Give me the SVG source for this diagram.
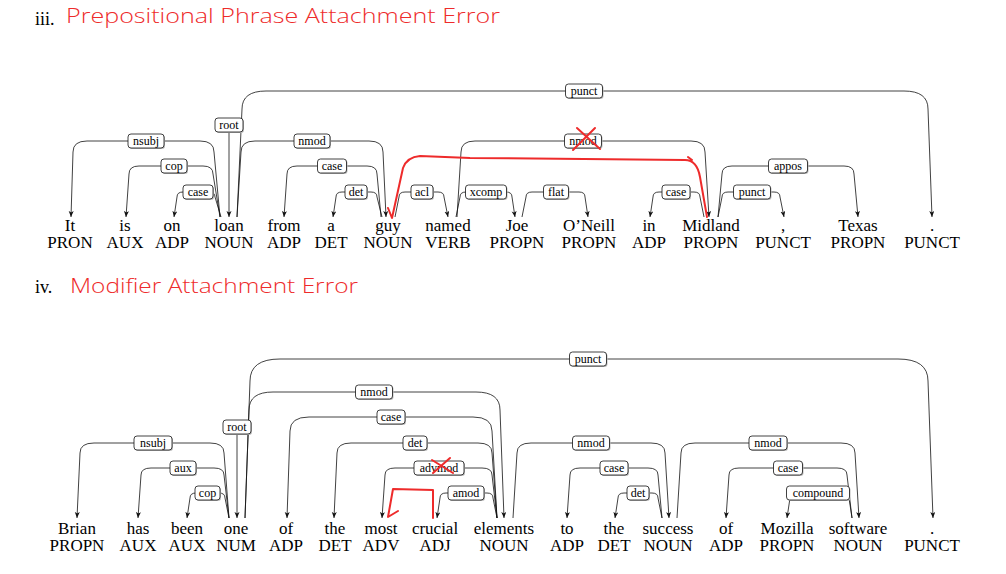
<svg xmlns="http://www.w3.org/2000/svg" width="1006" height="574" viewBox="0 0 1006 574">
<style>
.w{font-family:"Liberation Serif","Times New Roman",serif;font-size:17px;fill:#000;text-anchor:middle}
.num{font-family:"Liberation Serif","Times New Roman",serif;font-size:18px;fill:#000}
.hand{font-family:"Open Sans","Noto Sans","Liberation Sans",sans-serif;font-weight:300;font-size:21px;fill:#ee2b2b}
.e{fill:none;stroke:#111;stroke-width:0.8;marker-end:url(#ah)}
.lb rect{fill:#fff;stroke:#111;stroke-width:0.8}
.lb rect.sh{fill:#bbb;stroke:none}
.lb text{font-family:"Liberation Serif","Times New Roman",serif;font-size:12px;fill:#000;text-anchor:middle}
.red{fill:none;stroke:#ee2b2b;stroke-width:2;stroke-linecap:round;stroke-linejoin:round}
</style>
<defs>
<marker id="ah" markerUnits="userSpaceOnUse" markerWidth="8" markerHeight="6" refX="6" refY="2.5" orient="auto">
<path d="M0,0 L6,2.5 L0,5 L1.6,2.5 z" fill="#111"/>
</marker>
</defs>
<rect width="1006" height="574" fill="#fff"/>

<g id="titles">
<text class="num" x="35" y="25">iii.</text>
<text class="hand" x="66" y="23" textLength="434" lengthAdjust="spacingAndGlyphs">Prepositional Phrase Attachment Error</text>
<text class="num" x="35" y="293">iv.</text>
<text class="hand" x="70" y="293" textLength="288" lengthAdjust="spacingAndGlyphs">Modifier Attachment Error</text>
</g>

<g id="connectors">
<path class="e" d="M237,217 L242,109 Q242,91 266,91 L904,91 Q928,91 928,109 L932,217"/>
<path class="e" d="M237,217 L241,152 Q241,141 255,141 L369,141 Q383,141 383,152 L386,217"/>
<path class="e" d="M220,217 L214,152 Q214,141 200,141 L87,141 Q73,141 73,152 L71,217"/>
<path class="e" d="M220,217 L213,174 Q213,166 203,166 L139,166 Q129,166 129,174 L126,217"/>
<path class="e" d="M221,217 L215,197 Q215,192 209,192 L183,192 Q177,192 177,197 L174,217"/>
<path class="e" d="M229,133 L229,217"/>
<path class="e" d="M381,217 L377,174 Q377,166 367,166 L297,166 Q287,166 287,174 L284,217"/>
<path class="e" d="M382,217 L377,197 Q377,192 371,192 L342,192 Q336,192 336,197 L333,217"/>
<path class="e" d="M395,217 L399,197 Q399,192 405,192 L438,192 Q444,192 444,197 L448,217"/>
<path class="e" d="M456,217 L460,197 Q460,192 466,192 L506,192 Q512,192 512,197 L515,217"/>
<path class="e" d="M522,217 L526,197 Q526,192 532,192 L579,192 Q585,192 585,197 L588,217"/>
<path class="e" d="M457,217 L461,152 Q461,141 475,141 L691,141 Q705,141 705,152 L709,217"/>
<path class="e" d="M704,217 L700,197 Q700,192 694,192 L659,192 Q653,192 653,197 L650,217"/>
<path class="e" d="M718,217 L722,174 Q722,166 732,166 L844,166 Q854,166 854,174 L858,217"/>
<path class="e" d="M718,217 L722,197 Q722,192 728,192 L774,192 Q780,192 780,197 L784,217"/>

<path class="e" d="M245,518 L250,381 Q250,359 280,359 L898,359 Q928,359 928,381 L933,518"/>
<path class="e" d="M245,518 L249,410 Q249,392 273,392 L476,392 Q500,392 500,410 L504,518"/>
<path class="e" d="M497,518 L492,431 Q492,417 473,417 L309,417 Q290,417 290,431 L287,518"/>
<path class="e" d="M497,518 L492,453 Q492,443 478,443 L351,443 Q337,443 337,453 L334,518"/>
<path class="e" d="M497,518 L492,475 Q492,468 482,468 L395,468 Q385,468 385,475 L382,518"/>
<path class="e" d="M497,518 L493,498 Q493,493 487,493 L446,493 Q440,493 440,498 L437,518"/>
<path class="e" d="M513,518 L517,453 Q517,443 531,443 L651,443 Q665,443 665,453 L669,518"/>
<path class="e" d="M662,518 L658,475 Q658,468 648,468 L580,468 Q570,468 570,475 L567,518"/>
<path class="e" d="M662,518 L658,498 Q658,493 652,493 L624,493 Q618,493 618,498 L615,518"/>
<path class="e" d="M677,518 L681,453 Q681,443 695,443 L841,443 Q855,443 855,453 L859,518"/>
<path class="e" d="M852,518 L847,475 Q847,468 837,468 L739,468 Q729,468 729,475 L726,518"/>
<path class="e" d="M852,518 L849,498 Q849,493 843,493 L796,493 Q790,493 790,498 L787,518"/>
<path class="e" d="M229,518 L224,453 Q224,443 210,443 L94,443 Q80,443 80,453 L77,518"/>
<path class="e" d="M229,518 L224,475 Q224,468 214,468 L151,468 Q141,468 141,475 L138,518"/>
<path class="e" d="M229,518 L225,498 Q225,493 219,493 L196,493 Q190,493 190,498 L187,518"/>
<path class="e" d="M237,434 L237,518"/>
</g>

<g id="edge-labels" class="lb">
<g><rect class="sh" x="566.5" y="85" width="37" height="14" rx="3"/><rect x="565.5" y="84" width="37" height="14" rx="3"/><text x="584" y="95">punct</text></g>
<g><rect class="sh" x="216" y="119" width="28" height="14" rx="3"/><rect x="215" y="118" width="28" height="14" rx="3"/><text x="229" y="129">root</text></g>
<g><rect class="sh" x="129" y="135" width="36" height="14" rx="3"/><rect x="128" y="134" width="36" height="14" rx="3"/><text x="146" y="145">nsubj</text></g>
<g><rect class="sh" x="162" y="160" width="26" height="14" rx="3"/><rect x="161" y="159" width="26" height="14" rx="3"/><text x="174" y="170">cop</text></g>
<g><rect class="sh" x="184" y="186" width="30" height="14" rx="3"/><rect x="183" y="185" width="30" height="14" rx="3"/><text x="198" y="196">case</text></g>
<g><rect class="sh" x="295" y="135" width="36" height="14" rx="3"/><rect x="294" y="134" width="36" height="14" rx="3"/><text x="312" y="145">nmod</text></g>
<g><rect class="sh" x="318.5" y="160" width="29" height="14" rx="3"/><rect x="317.5" y="159" width="29" height="14" rx="3"/><text x="332" y="170">case</text></g>
<g><rect class="sh" x="346" y="186" width="22" height="14" rx="3"/><rect x="345" y="185" width="22" height="14" rx="3"/><text x="356" y="196">det</text></g>
<g><rect class="sh" x="412" y="186" width="22" height="14" rx="3"/><rect x="411" y="185" width="22" height="14" rx="3"/><text x="422" y="196">acl</text></g>
<g><rect class="sh" x="466.5" y="186" width="41" height="14" rx="3"/><rect x="465.5" y="185" width="41" height="14" rx="3"/><text x="486" y="196">xcomp</text></g>
<g><rect class="sh" x="544.5" y="186" width="25" height="14" rx="3"/><rect x="543.5" y="185" width="25" height="14" rx="3"/><text x="556" y="196">flat</text></g>
<g><rect class="sh" x="565.5" y="135" width="37" height="14" rx="3"/><rect x="564.5" y="134" width="37" height="14" rx="3"/><text x="583" y="145">nmod</text></g>
<g><rect class="sh" x="663" y="186" width="28" height="14" rx="3"/><rect x="662" y="185" width="28" height="14" rx="3"/><text x="676" y="196">case</text></g>
<g><rect class="sh" x="769.5" y="160" width="39" height="14" rx="3"/><rect x="768.5" y="159" width="39" height="14" rx="3"/><text x="788" y="170">appos</text></g>
<g><rect class="sh" x="734.5" y="186" width="37" height="14" rx="3"/><rect x="733.5" y="185" width="37" height="14" rx="3"/><text x="752" y="196">punct</text></g>

<g><rect class="sh" x="570.5" y="353" width="37" height="14" rx="3"/><rect x="569.5" y="352" width="37" height="14" rx="3"/><text x="588" y="363">punct</text></g>
<g><rect class="sh" x="356.5" y="386" width="37" height="14" rx="3"/><rect x="355.5" y="385" width="37" height="14" rx="3"/><text x="374" y="396">nmod</text></g>
<g><rect class="sh" x="378" y="411" width="28" height="14" rx="3"/><rect x="377" y="410" width="28" height="14" rx="3"/><text x="391" y="421">case</text></g>
<g><rect class="sh" x="404" y="437" width="24" height="14" rx="3"/><rect x="403" y="436" width="24" height="14" rx="3"/><text x="415" y="447">det</text></g>
<g><rect class="sh" x="415" y="462" width="50" height="14" rx="3"/><rect x="414" y="461" width="50" height="14" rx="3"/><text x="439" y="472">advmod</text></g>
<g><rect class="sh" x="449" y="487" width="36" height="14" rx="3"/><rect x="448" y="486" width="36" height="14" rx="3"/><text x="466" y="497">amod</text></g>
<g><rect class="sh" x="573.5" y="437" width="37" height="14" rx="3"/><rect x="572.5" y="436" width="37" height="14" rx="3"/><text x="591" y="447">nmod</text></g>
<g><rect class="sh" x="601" y="462" width="28" height="14" rx="3"/><rect x="600" y="461" width="28" height="14" rx="3"/><text x="614" y="472">case</text></g>
<g><rect class="sh" x="628" y="487" width="22" height="14" rx="3"/><rect x="627" y="486" width="22" height="14" rx="3"/><text x="638" y="497">det</text></g>
<g><rect class="sh" x="750" y="437" width="38" height="14" rx="3"/><rect x="749" y="436" width="38" height="14" rx="3"/><text x="768" y="447">nmod</text></g>
<g><rect class="sh" x="774.5" y="462" width="29" height="14" rx="3"/><rect x="773.5" y="461" width="29" height="14" rx="3"/><text x="788" y="472">case</text></g>
<g><rect class="sh" x="787.5" y="487" width="63" height="14" rx="3"/><rect x="786.5" y="486" width="63" height="14" rx="3"/><text x="818" y="497">compound</text></g>
<g><rect class="sh" x="135" y="437" width="38" height="14" rx="3"/><rect x="134" y="436" width="38" height="14" rx="3"/><text x="153" y="447">nsubj</text></g>
<g><rect class="sh" x="171" y="462" width="26" height="14" rx="3"/><rect x="170" y="461" width="26" height="14" rx="3"/><text x="183" y="472">aux</text></g>
<g><rect class="sh" x="196" y="487" width="25" height="14" rx="3"/><rect x="195" y="486" width="25" height="14" rx="3"/><text x="207.5" y="497">cop</text></g>
<g><rect class="sh" x="224" y="421" width="28" height="14" rx="3"/><rect x="223" y="420" width="28" height="14" rx="3"/><text x="237" y="431">root</text></g>
</g>

<g id="corrections">
<path class="red" d="M707,217 L700,177 Q697,160 685,160 L470,158 L420,156 Q407,157 403,168 L392,218 M388,208 L392,218 M688,157 L692,160"/>
<path class="red" d="M577,128 L600,149 M595,128 L573,150"/>
<path class="red" d="M433,518 L433,490 L393,489 L388,517 L398,511"/>
<path class="red" d="M432,460 L453,473 M450,458 L433,473"/>
</g>

<g id="sentence1">
<g id="t1"><text class="w" x="70" y="231">It</text><text class="w" x="70" y="248">PRON</text></g>
<g id="t2"><text class="w" x="125" y="231">is</text><text class="w" x="125" y="248">AUX</text></g>
<g id="t3"><text class="w" x="172" y="231">on</text><text class="w" x="172" y="248">ADP</text></g>
<g id="t4"><text class="w" x="229" y="231">loan</text><text class="w" x="229" y="248">NOUN</text></g>
<g id="t5"><text class="w" x="284" y="231">from</text><text class="w" x="284" y="248">ADP</text></g>
<g id="t6"><text class="w" x="331" y="231">a</text><text class="w" x="331" y="248">DET</text></g>
<g id="t7"><text class="w" x="388" y="231">guy</text><text class="w" x="388" y="248">NOUN</text></g>
<g id="t8"><text class="w" x="448" y="231">named</text><text class="w" x="448" y="248">VERB</text></g>
<g id="t9"><text class="w" x="517" y="231">Joe</text><text class="w" x="517" y="248">PROPN</text></g>
<g id="t10"><text class="w" x="589" y="231">O’Neill</text><text class="w" x="589" y="248">PROPN</text></g>
<g id="t11"><text class="w" x="649" y="231">in</text><text class="w" x="649" y="248">ADP</text></g>
<g id="t12"><text class="w" x="711" y="231">Midland</text><text class="w" x="711" y="248">PROPN</text></g>
<g id="t13"><text class="w" x="783" y="231">,</text><text class="w" x="783" y="248">PUNCT</text></g>
<g id="t14"><text class="w" x="858" y="231">Texas</text><text class="w" x="858" y="248">PROPN</text></g>
<g id="t15"><text class="w" x="932" y="231">.</text><text class="w" x="932" y="248">PUNCT</text></g>
</g>

<g id="sentence2">
<g id="s1"><text class="w" x="77" y="534">Brian</text><text class="w" x="77" y="551">PROPN</text></g>
<g id="s2"><text class="w" x="138" y="534">has</text><text class="w" x="138" y="551">AUX</text></g>
<g id="s3"><text class="w" x="187" y="534">been</text><text class="w" x="187" y="551">AUX</text></g>
<g id="s4"><text class="w" x="236" y="534">one</text><text class="w" x="236" y="551">NUM</text></g>
<g id="s5"><text class="w" x="286" y="534">of</text><text class="w" x="286" y="551">ADP</text></g>
<g id="s6"><text class="w" x="335" y="534">the</text><text class="w" x="335" y="551">DET</text></g>
<g id="s7"><text class="w" x="381" y="534">most</text><text class="w" x="381" y="551">ADV</text></g>
<g id="s8"><text class="w" x="435" y="534">crucial</text><text class="w" x="435" y="551">ADJ</text></g>
<g id="s9"><text class="w" x="504" y="534">elements</text><text class="w" x="504" y="551">NOUN</text></g>
<g id="s10"><text class="w" x="567" y="534">to</text><text class="w" x="567" y="551">ADP</text></g>
<g id="s11"><text class="w" x="614" y="534">the</text><text class="w" x="614" y="551">DET</text></g>
<g id="s12"><text class="w" x="668" y="534">success</text><text class="w" x="668" y="551">NOUN</text></g>
<g id="s13"><text class="w" x="726" y="534">of</text><text class="w" x="726" y="551">ADP</text></g>
<g id="s14"><text class="w" x="787" y="534">Mozilla</text><text class="w" x="787" y="551">PROPN</text></g>
<g id="s15"><text class="w" x="858" y="534">software</text><text class="w" x="858" y="551">NOUN</text></g>
<g id="s16"><text class="w" x="932" y="534">.</text><text class="w" x="932" y="551">PUNCT</text></g>
</g>
</svg>
